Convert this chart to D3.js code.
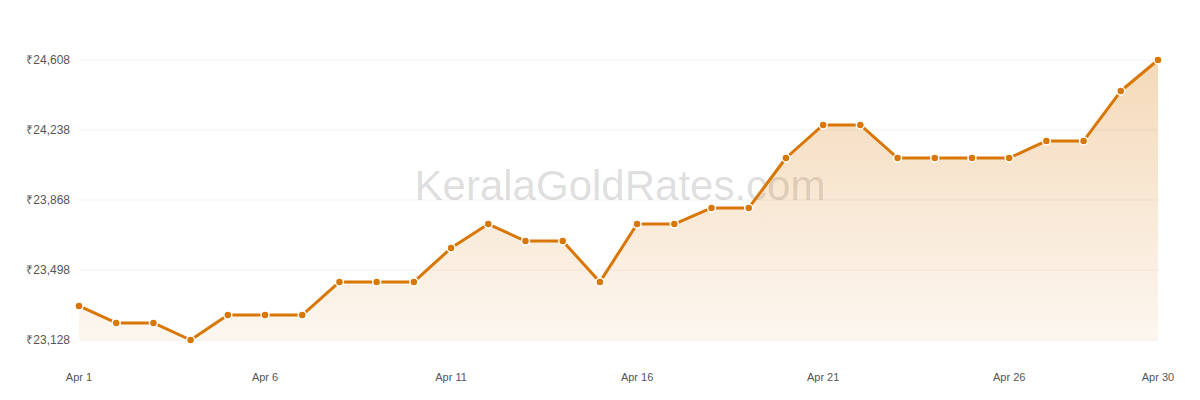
<!DOCTYPE html>
<html><head><meta charset="utf-8">
<script src="https://cdn.jsdelivr.net/npm/d3@7"></script>
<style>body{margin:0;background:#fff}svg{display:block}</style>
</head><body><svg id="c" width="1200" height="400"></svg>
<script>
const days = d3.range(1,31);
const prices = [23308,23218,23218,23128,23260,23260,23260,23435,23435,23435,23614,23741,23651,23651,23435,23741,23741,23826,23826,24090,24265,24265,24090,24090,24090,24090,24180,24180,24444,24608];
const yTicks = [23128,23498,23868,24238,24608];
const xTicks = [1,6,11,16,21,26,30];

const svg = d3.select("#c");
const x = d3.scaleLinear().domain([1,30]).range([79,1158]);
const y = d3.scaleLinear().domain([23128,24608]).range([340,60]);
const data = days.map((d,i)=>({d,v:prices[i]}));

const defs = svg.append("defs");
const g = defs.append("linearGradient").attr("id","gr").attr("x1",0).attr("y1",0).attr("x2",0).attr("y2",1);
g.append("stop").attr("offset","0%").attr("stop-color","#d97706").attr("stop-opacity",0.28);
g.append("stop").attr("offset","100%").attr("stop-color","#d97706").attr("stop-opacity",0.06);

svg.append("g").selectAll("line").data(yTicks).join("line")
  .attr("x1",79).attr("x2",1158).attr("y1",d=>y(d)).attr("y2",d=>y(d))
  .attr("stroke","#f2f2f2");

svg.append("g").selectAll("text").data(yTicks).join("text")
  .attr("x",70).attr("y",d=>y(d)+4).attr("text-anchor","end")
  .attr("font-family","Liberation Sans, Arial").attr("font-size",12).attr("fill","#555")
  .text(d=>"₹"+d3.format(",")(d));

svg.append("g").selectAll("text").data(xTicks).join("text")
  .attr("x",d=>x(d)).attr("y",381).attr("text-anchor","middle")
  .attr("font-family","Liberation Sans, Arial").attr("font-size",11).attr("fill","#555")
  .text(d=>"Apr "+d);

svg.append("text").attr("x",620).attr("y",200).attr("text-anchor","middle")
  .attr("font-family","Liberation Sans, Arial").attr("font-size",42).attr("fill","#000").attr("fill-opacity",0.15)
  .text("KeralaGoldRates.com");

svg.append("path").datum(data)
  .attr("d",d3.area().x(d=>x(d.d)).y0(340).y1(d=>y(d.v)))
  .attr("fill","url(#gr)");

svg.append("path").datum(data)
  .attr("d",d3.line().x(d=>x(d.d)).y(d=>y(d.v)))
  .attr("fill","none").attr("stroke","#d97706").attr("stroke-width",3).attr("stroke-linejoin","round");

svg.append("g").selectAll("circle").data(data).join("circle")
  .attr("cx",d=>x(d.d)).attr("cy",d=>y(d.v)).attr("r",4)
  .attr("fill","#d97706").attr("stroke","#fff").attr("stroke-width",1.5);
</script></body></html>
